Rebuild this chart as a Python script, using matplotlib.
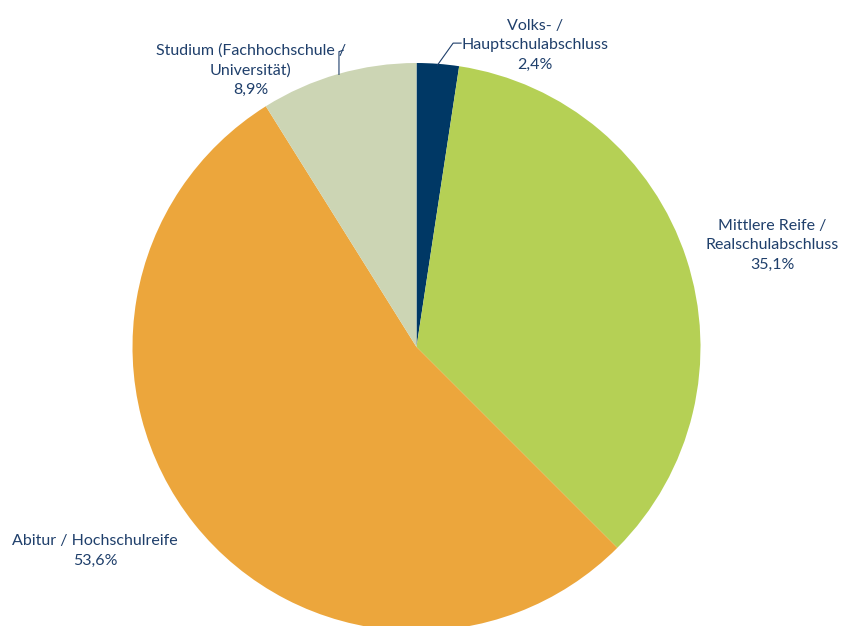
import matplotlib.pyplot as plt

categories = [
    "Volks- /\nHauptschulabschluss",
    "Mittlere Reife /\nRealschulabschluss",
    "Abitur / Hochschulreife",
    "Studium (Fachhochschule /\nUniversität)",
]
shares = [2.4, 35.1, 53.6, 8.9]
colors = ["#003865", "#b5d055", "#eca63c", "#ccd5b4"]

# label anchor points in pie radius units
label_pos = [(0.418, 1.063), (1.253, 0.359), (-1.132, -0.718), (-0.583, 0.975)]
text_color = "#1f3f6b"

plt.rcParams['font.family'] = ['Lato', 'DejaVu Sans']

W, H = 842, 626
fig = plt.figure(figsize=(W / 100, H / 100), dpi=100)
cx, cy, r = 416.5, 626 - 347, 284
ax = fig.add_axes([(cx - r) / W, (cy - r) / H, 2 * r / W, 2 * r / H])

ax.pie(shares, colors=colors, startangle=90, counterclock=False,
       radius=1, center=(0, 0), wedgeprops=dict(linewidth=0))
ax.set_xlim(-1, 1)
ax.set_ylim(-1, 1)
ax.set_aspect('equal')
ax.axis('off')

for name, val, (x, y) in zip(categories, shares, label_pos):
    txt = f"{name}\n{val:.1f}%".replace('.', ',')
    ax.text(x, y, txt, ha='center', va='center', fontsize=11.5,
            color=text_color, linespacing=1.5, clip_on=False)

# leader lines
lc = "#1f3f6b"
ax.plot([0.074, 0.129, 0.157], [0.993, 1.070, 1.070], color=lc, lw=0.8, clip_on=False)
ax.plot([-0.273, -0.273, -0.258], [0.960, 1.040, 1.045], color=lc, lw=0.8, clip_on=False)

fig.savefig("out.png", dpi=100)
